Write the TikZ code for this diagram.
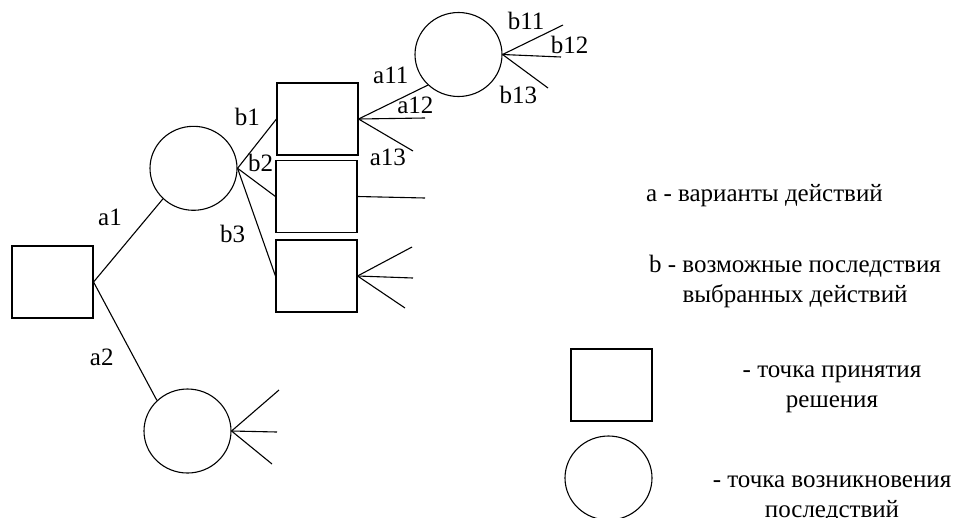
\documentclass[tikz,border=0pt]{standalone}
\usepackage{fontspec}
\setmainfont{Liberation Serif}
\usetikzlibrary{shapes.geometric}

\begin{document}
\begin{tikzpicture}[x=1pt, y=-1pt, line width=1.1pt,
    decision/.style={draw, rectangle, minimum width=81pt, minimum height=72pt, inner sep=0pt},
    chance/.style={draw, ellipse, minimum width=87pt, minimum height=84pt, inner sep=0pt},
    lbl/.style={font=\rmfamily\fontsize{25}{29.5}\selectfont, inner sep=0pt},
    legendtext/.style={font=\rmfamily\fontsize{25}{29.5}\selectfont, align=center, inner sep=0pt}]
    \useasboundingbox (0, 0) rectangle (957, 517);

    % tree
    \node[decision] (root) at (52.5, 282) {};
    \node[chance] (c1) at (193.5, 168.3) {};
    \node[chance] (c2) at (187.5, 431) {};
    \node[decision] (s1) at (317.5, 119) {};
    \node[decision] (s2) at (316.5, 196.5) {};
    \node[decision] (s3) at (316.5, 276) {};
    \node[chance] (c3) at (458.5, 54.5) {};

    \draw (root.east) -- (c1.225);
    \draw (root.east) -- (c2.135);
    \draw (c1.east) -- (s1.west);
    \draw (c1.east) -- (s2.west);
    \draw (c1.east) -- (s3.west);
    \draw (s1.east) -- (c3.225);

    % free ends
    \coordinate (a12end) at (425, 118);
    \coordinate (a13end) at (413, 151);
    \coordinate (b11end) at (563, 25);
    \coordinate (b12end) at (561, 57);
    \coordinate (b13end) at (548, 88);
    \coordinate (s2end) at (425, 198);
    \coordinate (s3top) at (412, 247);
    \coordinate (s3mid) at (413, 278);
    \coordinate (s3bot) at (405, 308);
    \coordinate (c2top) at (279, 390);
    \coordinate (c2mid) at (277, 432);
    \coordinate (c2bot) at (272, 464);

    \draw (s1.east) -- (a12end);
    \draw (s1.east) -- (a13end);
    \foreach \e in {b11end, b12end, b13end}
        \draw (c3.east) -- (\e);
    \draw (s2.east) -- (s2end);
    \foreach \e in {s3top, s3mid, s3bot}
        \draw (s3.east) -- (\e);
    \foreach \e in {c2top, c2mid, c2bot}
        \draw (c2.east) -- (\e);

    % labels
    \node[lbl] (la1) at (110, 217) {a1};
    \node[lbl] (la2) at (101.7, 357.7) {a2};
    \node[lbl] (lb1) at (247.3, 117) {b1};
    \node[lbl] (lb2) at (260.5, 163) {b2};
    \node[lbl] (lb3) at (232.7, 233.5) {b3};
    \node[lbl] (la11) at (390.8, 75.8) {a11};
    \node[lbl] (la12) at (415.3, 105) {a12};
    \node[lbl] (la13) at (387.8, 157) {a13};
    \node[lbl] (lb11) at (526.2, 20.5) {b11};
    \node[lbl] (lb12) at (569.7, 44.8) {b12};
    \node[lbl] (lb13) at (518.3, 95) {b13};

    % legend (base = last line)
    \node[legendtext, anchor=base] (keya) at (764.5, 201) {a - варианты действий};
    \node[legendtext, anchor=base] (keyb) at (795, 302) {b - возможные последствия\\выбранных действий};
    \node[decision] (keysq) at (611.5, 385) {};
    \node[legendtext, anchor=base] (keysqtext) at (832, 407) {- точка принятия\\решения};
    \node[chance] (keyci) at (608.5, 478) {};
    \node[legendtext, anchor=base] (keycitext) at (832, 517) {- точка возникновения\\последствий};
\end{tikzpicture}
\end{document}
